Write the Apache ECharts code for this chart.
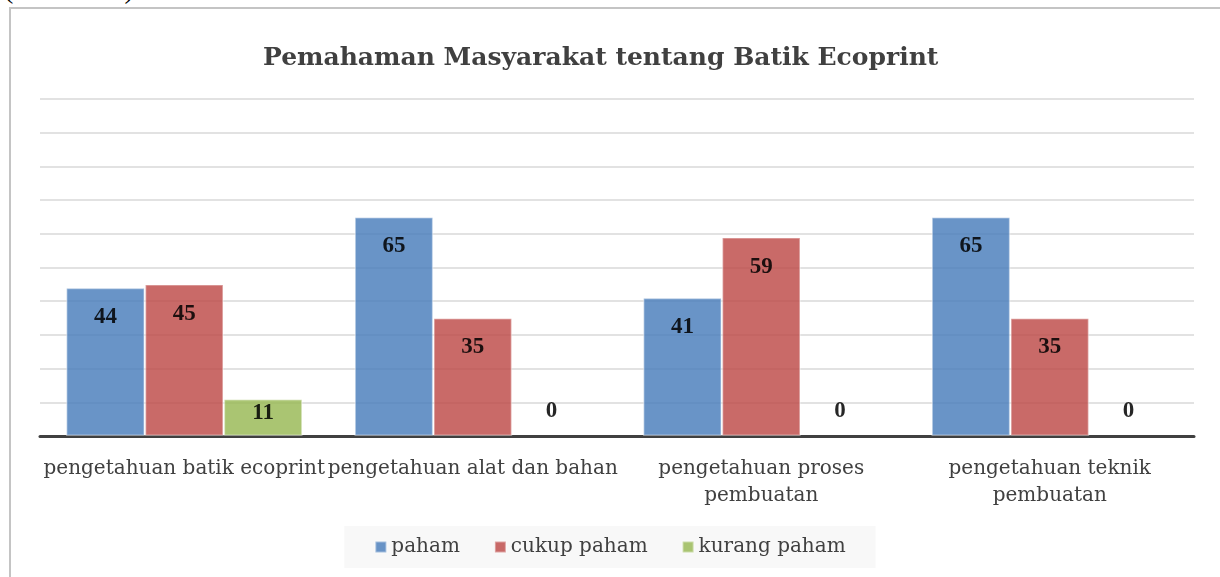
<!DOCTYPE html>
<html>
<head>
<meta charset="utf-8">
<script src="https://cdn.jsdelivr.net/npm/echarts@6/dist/echarts.min.js"></script>
<style>
  html, body { margin: 0; padding: 0; background: #fff; overflow: hidden; }
  .cap { position: absolute; left: 4px; top: -27px; font: 28px "Liberation Serif", serif; color: #000; }
  .frame { position: absolute; left: 9px; top: 7px; width: 1300px; height: 700px; border: 2px solid #c4c4c4; }
  #chart { position: absolute; left: 0; top: 0; width: 1220px; height: 577px; }
</style>
</head>
<body>
<div class="cap">(Gambar 1).</div>
<div class="frame"></div>
<div id="chart"></div>
<script>
// kategori pertanyaan
var categories = ['pengetahuan batik ecoprint', 'pengetahuan alat dan bahan', 'pengetahuan proses\npembuatan', 'pengetahuan teknik\npembuatan'];
var seriesNames = ['paham', 'cukup paham', 'kurang paham'];
var paham = [44, 65, 41, 65];
var cukupPaham = [45, 35, 59, 35];
var kurangPaham = [11, 0, 0, 0];
var colors = ['#4F81BD', '#C0504D', '#9BBB59'];

var serif = '"DejaVu Serif", "Liberation Serif", serif';
var labelFont = '"Liberation Serif", serif';

// label seperti excel: di dalam ujung batang, batang pendek tetap di atas sumbu
function withLabels(values) {
  return values.map(function (v) {
    var lab, st = {};
    if (v >= 20) lab = { position: 'insideTop', distance: 18 };
    else if (v > 0) lab = { position: 'insideTop', distance: 3 };
    else { lab = { position: 'top', distance: 13 }; st = { borderWidth: 0 }; }
    return { value: v, label: lab, itemStyle: st };
  });
}

var chart = echarts.init(document.getElementById('chart'));
var allData = [paham, cukupPaham, kurangPaham];

var option = {
  animation: false,
  title: {
    text: 'Pemahaman Masyarakat tentang Batik Ecoprint',
    left: 258,
    top: 41,
    textStyle: { fontFamily: serif, fontSize: 25, fontWeight: 'bold', color: '#404040' }
  },
  legend: {
    data: seriesNames,
    bottom: 9,
    left: 'center',
    icon: 'rect',
    itemWidth: 11,
    itemHeight: 11,
    itemGap: 34,
    backgroundColor: '#f8f8f8',
    padding: [11, 30, 11, 30],
    textStyle: { fontFamily: serif, fontSize: 20, color: '#404040' }
  },
  grid: { left: 40, right: 26, top: 99, bottom: 141 },
  xAxis: {
    type: 'category',
    data: categories,
    axisLine: { lineStyle: { color: '#404040', width: 3 } },
    axisTick: { show: false },
    axisLabel: {
      interval: 0,
      margin: 19,
      fontFamily: serif,
      fontSize: 20,
      lineHeight: 27,
      color: '#404040'
    }
  },
  yAxis: {
    type: 'value',
    min: 0,
    max: 100,
    interval: 10,
    axisLabel: { show: false },
    axisLine: { show: false },
    axisTick: { show: false },
    splitLine: { lineStyle: { color: '#d9d9d9', width: 1.5 } }
  },
  series: allData.map(function (d, i) {
    return {
      name: seriesNames[i],
      type: 'bar',
      data: withLabels(d),
      barGap: '0%',
      barCategoryGap: '18%',
      itemStyle: { color: colors[i], opacity: 0.85, borderColor: 'rgba(255,255,255,0.45)', borderWidth: 1.5 },
      label: {
        show: true,
        color: '#000',
        fontFamily: labelFont,
        fontWeight: 'bold',
        fontSize: 23
      }
    };
  })
};
chart.setOption(option);
</script>
</body>
</html>
